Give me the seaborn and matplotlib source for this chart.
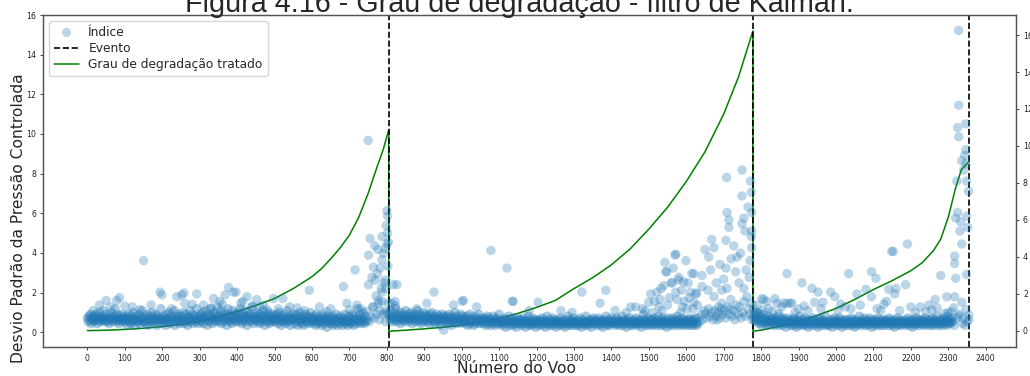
import numpy as np
import pandas as pd
import matplotlib
matplotlib.use("Agg")
import matplotlib.pyplot as plt
import seaborn as sns
from matplotlib.lines import Line2D

# ---------------- data ----------------
title = "Figura 4.16 - Grau de degradação - filtro de Kalman."
x_label = "Número do Voo"
y_label = "Desvio Padrão da Pressão Controlada"
legend_labels = ["Índice", "Evento", "Grau de degradação tratado"]

events = [805, 1778, 2355]

# dense band of the index (tenths), one value every 2 flights
seg1_start, seg1_step = 0, 2
seg1_band = [
    7,5,8,6,9,4,7,6,8,5,6,9,7,4,8,6,10,5,7,6,8,11,6,5,7,
    6,9,5,7,4,8,6,10,7,5,6,8,12,7,5,9,6,4,8,7,6,5,9,7,6,
    5,8,6,3,7,9,5,6,4,8,7,10,5,6,3,7,8,5,6,9,4,7,6,11,5,
    7,5,8,4,6,9,3,7,6,5,8,10,6,4,7,5,9,6,3,8,7,5,6,12,7,
    4,6,8,5,7,3,9,6,5,10,7,4,8,6,5,7,11,3,6,8,5,7,9,4,6,
    8,5,6,10,4,7,9,5,6,3,8,7,11,5,6,9,4,7,8,6,5,12,7,4,8,
    6,9,5,7,10,4,8,6,11,7,3,9,6,5,8,12,7,4,9,6,10,5,7,8,13,
    5,8,6,11,4,9,7,5,10,6,8,3,7,12,6,9,5,8,4,11,7,6,9,5,8,
    7,10,5,6,12,8,4,9,6,7,11,5,8,3,7,10,6,9,5,8,13,6,4,7,9,
    6,8,5,10,7,4,9,6,5,8,11,7,3,6,9,5,7,10,4,8,6,5,9,7,6,
    5,8,6,9,4,7,10,5,6,3,8,7,5,9,6,4,7,11,5,6,8,3,7,6,9,
    6,4,7,9,5,8,3,6,7,10,5,4,8,6,3,7,9,5,6,4,8,7,5,10,6,
    4,7,5,8,6,3,9,5,4,7,6,8,5,3,6,9,4,7,5,6,2,8,5,7,4,
    6,5,8,3,7,4,6,9,5,3,7,6,4,8,5,6,3,7,5,9,4,6,5,3,8,
    5,7,4,6,9,5,3,8,6,4,7,12,5,6,9,4,7,5,10,6,4,8,5,
]
seg2_start, seg2_step = 806, 2
seg2_band = [
    9,6,11,7,5,8,10,6,7,12,5,8,9,6,7,4,10,8,6,9,5,7,11,6,8,
    7,5,9,6,10,8,4,7,6,9,5,8,7,11,6,5,9,7,4,8,6,10,5,7,9,
    6,8,5,7,4,9,6,10,7,5,8,6,4,7,9,5,6,8,3,7,6,9,5,8,6,
    7,5,8,4,6,9,5,7,3,8,6,5,7,10,4,6,8,5,7,6,4,9,5,6,8,
    5,7,4,6,8,3,6,5,9,4,7,5,6,3,8,5,4,7,6,5,9,4,6,5,7,
    4,6,5,7,3,6,8,4,5,7,3,6,5,4,8,5,6,3,7,4,5,6,9,4,5,
    5,3,6,4,7,5,2,6,4,5,8,3,5,6,4,7,3,5,4,6,2,5,7,4,6,
    4,6,3,5,7,4,5,2,6,4,5,8,3,6,4,5,3,7,4,5,6,2,4,6,5,
    3,5,6,4,7,3,5,4,6,2,5,8,4,5,3,6,4,5,7,3,4,6,5,2,5,
    6,4,3,5,7,4,5,3,6,4,2,5,6,4,8,3,5,4,6,3,5,7,4,5,3,
    5,4,6,3,5,7,4,2,5,6,4,3,5,8,4,5,3,6,4,5,2,6,4,7,5,
    4,6,3,5,4,7,5,3,6,4,5,2,6,5,4,8,3,5,6,4,3,5,7,4,5,
    6,4,5,3,7,4,5,6,3,5,4,8,5,3,6,4,5,2,6,5,4,7,3,5,4,
    5,3,6,4,5,7,4,3,5,6,4,5,2,6,4,9,5,3,6,4,5,7,3,4,6,
    4,6,3,5,7,4,5,3,6,4,8,5,3,6,4,5,7,3,5,4,6,2,5,7,4,
    5,3,6,4,7,5,3,6,4,5,8,4,3,6,5,4,7,3,5,6,4,5,3,6,4,
    5,7,3,6,4,5,3,6,4,7,5,3,4,
]
seg3_start, seg3_step = 1780, 2
seg3_band = [
    8,6,9,5,7,10,6,4,8,5,7,3,6,9,5,4,7,6,3,5,8,4,6,5,7,
    4,6,3,5,7,4,6,5,3,8,4,5,6,3,7,5,4,6,2,5,7,4,5,6,3,
    5,4,6,3,7,5,4,2,6,5,3,5,8,4,6,3,5,4,7,3,5,6,4,2,5,
    6,4,3,5,7,4,5,3,6,4,5,2,6,4,7,3,5,6,4,5,3,8,4,5,3,
    5,3,6,4,5,2,6,4,7,5,3,4,6,5,3,7,4,5,2,6,4,5,3,6,4,
    4,6,3,5,4,7,3,5,6,4,2,5,6,3,5,4,8,4,5,3,6,4,5,7,3,
    5,4,6,3,5,7,4,5,2,6,4,5,3,6,4,5,7,3,5,4,6,3,5,4,6,
    3,5,6,4,5,3,7,4,5,6,3,5,4,2,6,5,4,7,3,5,4,6,3,5,4,
    5,4,6,3,5,4,7,5,3,6,4,5,2,6,4,5,3,7,4,5,6,3,4,5,6,
    4,6,3,5,7,4,5,3,6,4,5,6,3,4,7,5,3,6,4,5,8,4,3,5,6,
    4,6,3,5,7,4,5,6,3,8,4,5,6,4,7,5,
]

# individual points above the band (flight, value)
extra_x = [
    32,50,62,78,86,120,150,170,194,199,225,239,252,258,280,292,337,354,368,377,
    390,397,410,426,440,452,470,497,522,540,560,593,620,650,684,693,715,720,730,
    746,748,750,751,751,753,755,757,760,762,764,764,766,768,769,771,773,775,776,
    778,778,780,782,782,785,787,787,787,787,790,791,793,795,795,795,797,798,798,
    800,800,800,802,802,803,804,804,
    813,817,822,823,827,880,907,926,952,978,1001,1005,1040,1078,1121,1135,1138,
    1180,1204,1265,1295,1321,1370,1385,1410,1440,1452,1465,
    1490,1500,1510,1522,1527,1530,1540,1543,1545,1548,1555,1560,1562,1570,1572,
    1572,1580,1580,1585,1593,1595,1599,1602,1612,1615,1620,1620,1625,1628,
    1632,1636,1640,1644,1648,1652,1656,1660,1664,1668,1672,1676,1680,1682,1686,
    1687,1690,1694,1695,1698,1702,1706,1710,1714,1718,1719,1722,1727,1730,1734,
    1738,1742,1746,1750,1754,1758,1762,1766,1770,1774,1776,
    1642,1642,1650,1658,1660,1665,1668,1674,1674,1680,1690,1695,1700,1706,1706,
    1708,1709,1709,1714,1714,1720,1727,1732,1736,1741,1745,1749,1749,1749,1754,
    1754,1757,1760,1765,1768,1770,1772,1774,1774,1775,1775,1775,
    1780,1785,1790,1802,1805,1807,1815,1837,1842,1847,1860,1869,1869,1877,1882,
    1900,1909,1925,1936,1943,1952,1965,1986,1997,2013,2034,2040,2056,2080,2095,
    2095,2107,2120,2128,2141,2149,2153,2157,2160,2186,2191,2212,2225,2248,2256,
    2265,2280,2296,2300,2309,2314,
    2312,2316,2317,2317,2317,2320,2320,2322,2323,2325,2325,2328,2328,2328,2328,
    2330,2331,2333,2336,2336,2336,2338,2341,2341,2344,2345,2347,2347,2347,2347,
    2349,2349,2349,2350,2352,2354,2355,2355,
]
extra_y = [
    1.4,1.65,1.3,1.65,1.8,1.3,3.8,1.4,2.1,1.95,1.2,1.85,1.95,2.05,1.45,2.0,1.75,1.6,1.95,2.35,
    2.1,2.1,1.5,1.85,1.35,1.7,1.4,1.75,1.75,1.3,1.25,2.2,1.3,1.2,2.4,1.5,3.3,1.4,1.2,
    1.05,0.6,10.3,2.5,4.1,0.5,5.0,0.8,2.9,1.3,3.45,1.3,0.7,4.6,2.75,1.9,0.9,3.1,4.4,
    1.65,1.5,0.6,3.4,1.1,2.3,5.1,3.85,2.1,1.6,0.9,4.2,2.6,4.45,2.75,1.05,0.5,2.3,5.7,
    4.7,6.5,0.95,6.2,5.3,3.5,4.8,1.5,
    1.5,2.5,1.6,1.35,2.5,1.2,1.5,2.1,0.05,1.4,1.6,1.65,1.3,4.35,3.4,1.6,1.6,
    1.1,1.55,1.1,1.0,2.1,1.5,2.2,1.1,1.0,1.3,1.3,
    1.1,1.55,1.0,2.1,1.3,1.7,2.45,3.7,3.2,3.2,1.8,2.6,2.6,4.1,4.15,
    2.1,2.9,2.75,1.0,2.65,1.6,3.8,1.2,2.1,3.1,3.1,1.55,2.0,2.05,
    0.7,0.5,0.9,0.6,1.1,0.95,0.7,1.2,0.8,1.0,0.6,1.1,0.8,0.6,1.3,
    1.0,0.7,1.2,1.5,0.9,1.1,0.7,1.3,0.9,1.2,1.7,0.8,1.1,0.6,1.4,
    0.9,1.3,0.7,1.0,1.6,0.8,1.85,1.2,0.9,1.5,0.6,
    3.0,2.4,4.4,2.2,4.0,3.3,4.95,4.5,1.85,2.6,3.6,2.2,2.8,4.9,3.4,
    8.3,6.4,2.3,6.0,5.6,3.9,4.6,3.2,4.0,2.6,4.2,8.7,7.3,5.8,6.1,
    2.3,5.4,3.3,6.7,2.9,3.8,8.1,7.5,5.1,6.4,5.4,4.5,
    1.2,1.0,1.4,1.75,1.13,1.7,1.6,1.75,1.5,0.95,1.5,3.1,1.5,1.5,1.5,
    1.2,2.6,1.1,2.3,1.55,2.1,1.55,2.1,1.85,1.45,3.1,1.2,2.0,2.25,3.2,
    1.85,2.85,1.1,1.45,2.25,4.3,4.3,2.0,2.3,2.5,4.7,1.0,1.3,1.4,1.15,
    1.7,3.0,1.85,1.0,1.05,1.25,
    0.5,0.3,4.05,3.65,1.85,2.85,6.1,0.7,8.1,6.4,11.0,16.25,12.2,10.5,0.8,
    0.9,5.4,5.9,4.7,9.2,1.55,0.4,8.7,0.7,9.5,0.3,9.8,11.2,9.05,1.15,
    8.1,6.2,3.05,0.5,5.6,7.55,0.85,0.6,
]
# more scattered points just above the band
extra2_x = [15,100,140,260,310,330,360,415,460,480,510,580,640,700,
            1483,1505,1515,1533,1535,1550,1565,1575,1588,1590,1605,1608,1618,1630,
            1795,1820,1830,1855,1890,1915,1960,2005,2025,2065,2110,2135,2170,2200,2240,2270,2290]
extra2_y = [1.1,1.35,1.15,1.5,1.4,1.25,1.45,1.6,1.3,1.15,1.2,1.1,1.05,1.15,
            1.2,2.0,1.6,2.3,1.1,1.4,3.4,1.7,2.2,1.3,2.6,1.8,1.2,1.4,
            0.95,1.2,1.05,1.3,1.0,1.35,1.2,1.1,1.3,1.4,1.2,1.6,1.1,1.3,1.05,1.25,0.95]

# treated degradation curve (key points per segment)
curve_x = [0,50,100,150,200,250,300,350,400,450,500,550,600,625,650,675,700,725,750,775,790,805,
           805,850,900,950,1000,1050,1100,1150,1200,1250,1300,1350,1400,1450,1500,1550,1600,1650,1700,1740,1778,
           1778,1800,1850,1900,1950,2000,2050,2100,2150,2200,2230,2260,2280,2300,2320,2335,2355]
curve_y = [0.08,0.1,0.14,0.2,0.28,0.4,0.55,0.78,1.05,1.35,1.7,2.2,2.8,3.2,3.7,4.25,4.9,5.8,7.0,8.4,9.2,10.2,
           0.05,0.1,0.17,0.25,0.35,0.5,0.7,0.95,1.25,1.6,2.2,2.75,3.4,4.2,5.2,6.3,7.6,9.1,11.0,12.9,15.2,
           0.05,0.1,0.3,0.55,0.85,1.2,1.65,2.15,2.6,3.1,3.5,4.1,4.7,5.8,7.3,8.2,8.6]

x_ticks = list(range(0, 2401, 100))
y_ticks = list(range(0, 17, 2))

# ---------------- assemble ----------------
def band_xy(start, step, vals):
    xs = start + step * np.arange(len(vals))
    return xs, np.asarray(vals) / 10.0

bx1, by1 = band_xy(seg1_start, seg1_step, seg1_band)
bx2, by2 = band_xy(seg2_start, seg2_step, seg2_band)
bx3, by3 = band_xy(seg3_start, seg3_step, seg3_band)
band = pd.DataFrame({
    "voo": np.concatenate([bx1, bx2, bx3]),
    "indice": np.concatenate([by1, by2, by3]),
})
sparse = pd.DataFrame({
    "voo": np.concatenate([extra_x, extra2_x]),
    "indice": np.concatenate([extra_y, extra2_y]),
})
curve = pd.DataFrame({"voo": curve_x, "grau": curve_y})

# ---------------- plot ----------------
sns.set_style("ticks")
plt.rcParams["font.family"] = ["DejaVu Sans"]

fig = plt.figure(figsize=(10.3, 3.76), dpi=100)
ax = fig.add_axes([0.042, 0.078, 0.9444, 0.882])

sns.lineplot(data=curve, x="voo", y="grau", ax=ax, color="green", linewidth=1.1,
             estimator=None, sort=False)
for e in events:
    ax.axvline(e, color="k", ls="--", lw=1.2)

ax2 = ax.twinx()
sns.scatterplot(data=band, x="voo", y="indice", ax=ax2, color="#1f77b4", alpha=0.38,
                s=46, edgecolor="none", legend=False)
sns.scatterplot(data=sparse, x="voo", y="indice", ax=ax2, color="#1f77b4", alpha=0.3,
                s=46, edgecolor="none", legend=False)

for a in (ax, ax2):
    a.set_xlim(-118, 2481)
    a.set_yticks(y_ticks)
    a.tick_params(labelsize=5.6, length=2.5, width=0.6, colors="#222222", pad=2.5)
    for sp in a.spines.values():
        sp.set_color("#555555")
        sp.set_linewidth(0.9)
ax.set_xticks(x_ticks)
ax.set_ylim(-0.73, 16.0)
ax2.set_ylim(-0.85, 17.08)
ax.set_xlabel(x_label, fontsize=11.2)
ax.set_ylabel(y_label, fontsize=11.2)
ax.xaxis.set_label_coords(0.486, -0.043)
ax.yaxis.set_label_coords(-0.018, 0.388)
ax2.set_ylabel("")
ax2.set_xlabel("")

handles = [
    Line2D([], [], marker="o", ls="none", color="#1f77b4", alpha=0.3, markersize=6.5,
           markeredgewidth=0),
    Line2D([], [], color="k", ls="--", lw=1.2),
    Line2D([], [], color="green", lw=1.1),
]
ax2.legend(handles, legend_labels, loc="upper left", fontsize=8.8, labelspacing=0.25)

fig.text(0.504, 0.968, title, ha="center", va="baseline", fontsize=20.7,
         family=["Liberation Sans", "DejaVu Sans"])

fig.savefig("out.png", dpi=100)
